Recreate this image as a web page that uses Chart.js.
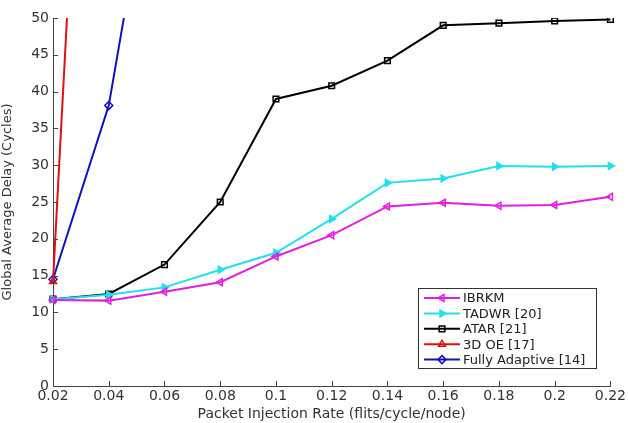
<!DOCTYPE html>
<html>
<head>
<meta charset="utf-8">
<script src="https://cdn.jsdelivr.net/npm/chart.js@4"></script>
<style>
  html, body { margin: 0; padding: 0; background: #fff; }
  #wrap { width: 628px; height: 423px; }
</style>
</head>
<body>
<div id="wrap"><canvas id="delayChart" width="628" height="423"></canvas></div>
<script>
// injection rates (flits/cycle/node)
const rates   = [0.02, 0.04, 0.06, 0.08, 0.10, 0.12, 0.14, 0.16, 0.18, 0.20, 0.22];
const ibrkm   = [11.7, 11.6, 12.8, 14.1, 17.6, 20.5, 24.4, 24.9, 24.5, 24.6, 25.7];
const tadwr   = [11.8, 12.4, 13.4, 15.8, 18.1, 22.7, 27.6, 28.2, 29.9, 29.8, 29.9];
const atar    = [11.8, 12.5, 16.5, 25.0, 39.0, 40.8, 44.2, 49.0, 49.3, 49.6, 49.8];
const oe3d    = [14.2, 157];          // shoots off the top after 0.02
const fullyAd = [14.5, 38.1, 82];     // leaves the plot between 0.04 and 0.06
const yTicks  = [0, 5, 10, 15, 20, 25, 30, 35, 40, 45, 50];

const FONT = "'DejaVu Sans', sans-serif";
const pts = arr => arr.map((v, i) => ({ x: rates[i], y: v }));

function series(label, data, color, style, rot, filled) {
  return {
    label, data: pts(data),
    borderColor: color, backgroundColor: filled ? color : '#fff',
    borderWidth: 2, pointStyle: style, pointRotation: rot || 0,
    pointRadius: 4, pointBorderWidth: 1.5, pointBackgroundColor: filled ? color : 'rgba(0,0,0,0)',
    tension: 0, fill: false,
    clip: { left: 6, right: 6, top: 0, bottom: 6 }   // keep edge markers whole, cut lines at top
  };
}

const datasets = [
  series('IBRKM', ibrkm, '#e020e0', 'triangle', -90, false),
  series('TADWR [20]', tadwr, '#22e0e8', 'triangle', 90, true),
  series('ATAR [21]', atar, '#000000', 'rect', 0, false),
  series('3D OE [17]', oe3d, '#dd1111', 'triangle', 0, false),
  series('Fully Adaptive [14]', fullyAd, '#1010c0', 'rectRot', 0, false)
];

// small inward tick marks, MATLAB style
const innerTicks = {
  id: 'innerTicks',
  afterDatasetsDraw(chart) {
    const { ctx, chartArea: a, scales: { x, y } } = chart;
    ctx.save();
    ctx.strokeStyle = '#444'; ctx.lineWidth = 1;
    ctx.beginPath();
    rates.forEach(v => { const px = Math.round(x.getPixelForValue(v)) + 0.5; ctx.moveTo(px, a.bottom); ctx.lineTo(px, a.bottom - 5); });
    yTicks.forEach(v => { const py = Math.round(y.getPixelForValue(v)) + 0.5; ctx.moveTo(a.left, py); ctx.lineTo(a.left + 5, py); });
    ctx.stroke();
    ctx.restore();
  }
};

// boxed legend in lower right of plot
const boxLegend = {
  id: 'boxLegend',
  afterDraw(chart) {
    const ctx = chart.ctx;
    const bx = 418, by = 288, bw = 178, bh = 80, row = 15.4;
    ctx.save();
    ctx.fillStyle = '#fff'; ctx.fillRect(bx, by, bw, bh);
    ctx.strokeStyle = '#333'; ctx.lineWidth = 1;
    ctx.strokeRect(bx + 0.5, by + 0.5, bw, bh);
    ctx.font = '13px ' + FONT; ctx.textBaseline = 'middle'; ctx.fillStyle = '#222';
    chart.data.datasets.forEach((ds, i) => {
      const cy = by + 10 + i * row;
      ctx.strokeStyle = ds.borderColor; ctx.lineWidth = 2;
      ctx.beginPath(); ctx.moveTo(bx + 6, cy); ctx.lineTo(bx + 42, cy); ctx.stroke();
      ctx.lineWidth = 1.5;
      ctx.fillStyle = ds.pointBackgroundColor;
      Chart.helpers.drawPoint(ctx, { pointStyle: ds.pointStyle, rotation: ds.pointRotation, radius: 4, borderWidth: 1.5 }, bx + 24, cy);
      ctx.fillStyle = '#222';
      ctx.fillText(ds.label, bx + 45, cy + 1);
    });
    ctx.restore();
  }
};

new Chart(document.getElementById('delayChart').getContext('2d'), {
  type: 'line',
  data: { datasets },
  plugins: [innerTicks, boxLegend],
  options: {
    responsive: false,
    animation: false,
    layout: { padding: { top: 18, right: 16, left: 0, bottom: 0 } },
    plugins: { legend: { display: false }, tooltip: { enabled: false } },
    scales: {
      x: {
        type: 'linear', min: 0.02, max: 0.22,
        afterFit: s => { s.height = 37; },
        afterBuildTicks: s => { s.ticks = rates.map(v => ({ value: v })); },
        ticks: { color: '#333', font: { family: FONT, size: 14 }, padding: 2, maxRotation: 0,
                 callback: v => String(parseFloat(v.toFixed(2))) },
        grid: { display: false, drawTicks: false },
        border: { display: true, color: '#444', width: 1 },
        title: { display: true, text: 'Packet Injection Rate (flits/cycle/node)', color: '#333',
                 font: { family: FONT, size: 14 }, padding: { top: 0, bottom: 0 } }
      },
      y: {
        min: 0, max: 50,
        afterFit: s => { s.width = 53; },
        afterBuildTicks: s => { s.ticks = yTicks.map(v => ({ value: v })); },
        ticks: { color: '#333', font: { family: FONT, size: 14 }, padding: 4 },
        grid: { display: false, drawTicks: false },
        border: { display: true, color: '#444', width: 1 },
        title: { display: true, text: 'Global Average Delay (Cycles)', color: '#333',
                 font: { family: FONT, size: 13 }, padding: { top: 0, bottom: 2 } }
      }
    }
  }
});
</script>
</body>
</html>
